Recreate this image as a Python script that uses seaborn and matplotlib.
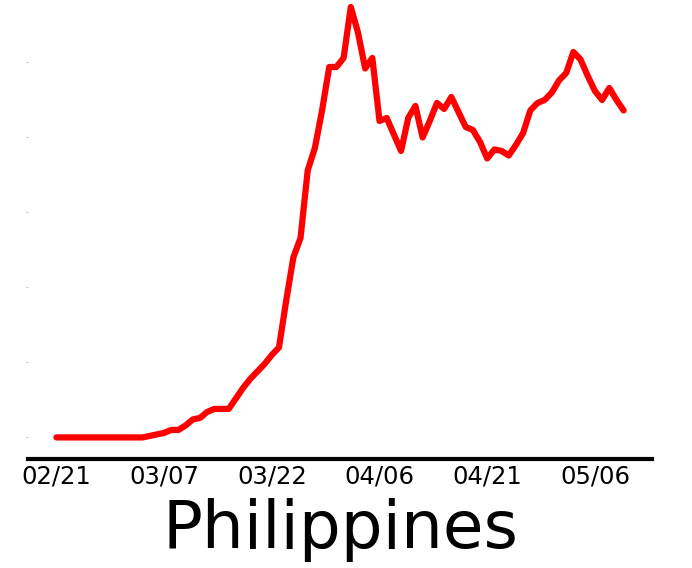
import numpy as np
import pandas as pd
import seaborn as sns
import matplotlib
matplotlib.use("Agg")
import matplotlib.pyplot as plt
import matplotlib.dates as mdates

country = "Philippines"
start_date = "2020-02-21"
# daily values, one per day from 02/21
cases = [
    0, 0, 0, 0, 0, 0, 0, 0, 0, 0, 0, 0, 0, 1, 2, 3, 5, 5, 8, 12,
    13, 17, 19, 19, 19, 26, 33, 39, 44, 49, 55, 60, 91, 120, 133, 178, 193, 218, 247, 247,
    253, 287, 270, 246, 253, 211, 213, 202, 191, 213, 221, 200, 211, 223, 219, 227, 217, 207, 205, 197,
    186, 192, 191, 188, 195, 203, 218, 223, 225, 230, 238, 243, 257, 252, 241, 231, 225, 233, 225, 218,
]
dates = pd.date_range(start_date, periods=len(cases), freq="D")

df = pd.DataFrame({"date": dates, "cases": cases})

sns.set_style("white")
fig = plt.figure(figsize=(6.92, 5.68), dpi=100)
ax = fig.add_axes([0.0405, 0.192, 0.9017, 0.8336])

sns.lineplot(data=df, x="date", y="cases", color="#ff0000", linewidth=4.5, ax=ax)

ax.set_xticks(dates[::15])
ax.xaxis.set_major_formatter(mdates.DateFormatter("%m/%d"))
ax.tick_params(axis="x", length=0, pad=4, labelsize=17.5, colors="black")
ax.set_yticks([0, 50, 100, 150, 200, 250])
ax.tick_params(axis="y", left=True, length=1.5, width=0.8, color="#c8c8c8", labelleft=False)

for side in ["top", "right", "left"]:
    ax.spines[side].set_visible(False)
ax.spines["bottom"].set_color("black")
ax.spines["bottom"].set_linewidth(3)

ax.set_ylabel("")
ax.set_xlabel(country, fontsize=47.5, labelpad=6.5, color="black")

fig.savefig("out.png", dpi=100)
